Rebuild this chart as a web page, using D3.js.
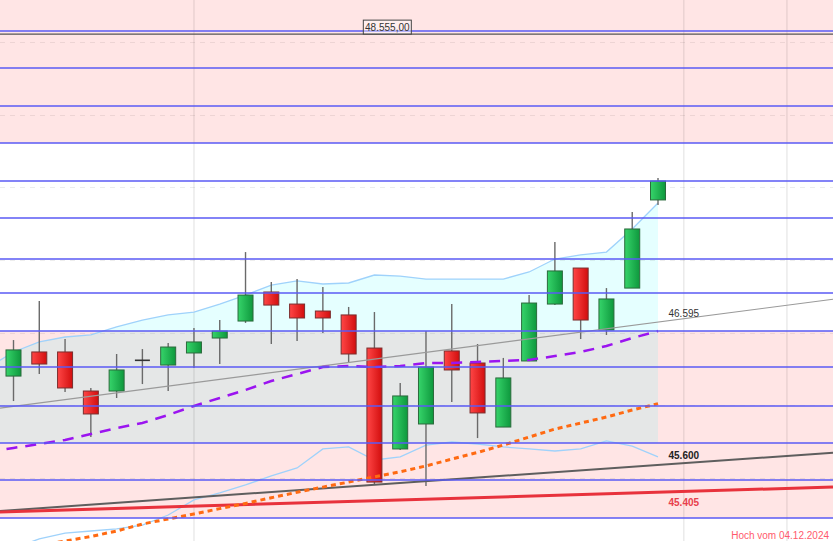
<!DOCTYPE html>
<html><head><meta charset="utf-8">
<script src="https://cdn.jsdelivr.net/npm/d3@7"></script>
<style>body{margin:0;background:#fff;}svg{display:block;font-family:"Liberation Sans",Arial,sans-serif;}</style>
</head><body><svg id="c" width="833" height="541"></svg>
<script>
// ---- data ----
const dates = ["2025-09-22","2025-09-23","2025-09-24","2025-09-25","2025-09-26","2025-09-29","2025-09-30",
  "2025-10-01","2025-10-02","2025-10-03","2025-10-06","2025-10-07","2025-10-08","2025-10-09","2025-10-10",
  "2025-10-13","2025-10-14","2025-10-15","2025-10-16","2025-10-17","2025-10-20","2025-10-21","2025-10-22",
  "2025-10-23","2025-10-24","2025-10-27"];
const opens  = [46200,46366,46366,46097,46097,46311,46276,46359,46462,46579,46779,46696,46648,46621,46393,45698,45870,46373,46290,45849,46304,46696,46944,46517,46806,47413];
const highs  = [46448,46717,46455,46118,46352,46386,46428,46531,46586,47054,46848,46868,46813,46676,46641,46152,46510,46696,46421,46325,46758,47123,46944,46806,47330,47564];
const lows   = [46028,46214,46090,45780,46049,46145,46097,46256,46283,46566,46421,46442,46497,46290,45450,45691,45443,46021,45773,45849,46304,46689,46455,46483,46806,47378];
const closes = [46380,46283,46118,45939,46242,46306,46400,46435,46510,46758,46689,46600,46600,46352,45470,46063,46262,46242,45946,46187,46703,46924,46586,46731,47213,47543];
// Bollinger bands start one session earlier (2025-09-19) so they reach the left edge
const bbUpper  = [46256,46366,46435,46469,46483,46538,46586,46621,46641,46696,46758,46827,46855,46834,46841,46896,46889,46868,46868,46868,46868,46917,47006,47034,47054,47213,47392];
const bbMiddle = [45677,45705,45732,45760,45801,45842,45877,45932,45994,46049,46104,46166,46214,46262,46269,46262,46269,46290,46290,46297,46304,46311,46338,46366,46407,46462,46510];
const bbLower  = [44961,45016,45078,45119,45133,45147,45174,45243,45347,45395,45450,45512,45567,45698,45712,45622,45643,45725,45746,45732,45712,45698,45684,45698,45753,45718,45643];
const bbFillFloor = 45739;
const maOrange = [45002,45032,45064,45095,45133,45181,45216,45250,45287,45323,45362,45400,45435,45470,45506,45541,45581,45628,45674,45725,45780,45835,45876,45918,45966,46010];
const levels   = [48576,48321,48060,47805,47543,47289,47006,46772,46510,46262,45994,45739,45484,45222];
const zones    = [[47805,49000],[45222,46510]];
const gridValues = [45500,46000,46500,47000,47500,48000,48500];
const vGridIdx = [7,26,30];
const trendThin = [[0,45992],[26,46595]];
const trendDark = [[0,45277],[26,45600]];
const trendRed  = [[0,45267],[26,45405]];
const highLevel = 48555, highLabel = "48.555,00";
const trendLabels = ["46.595","45.600","45.405"];
const oldHigh = 45073, oldHighLabel = "Hoch vom 04.12.2024";

// ---- scales ----
const W=833,H=541;
const svg=d3.select("#c");
const x=d3.scaleLinear().domain([-0.5237,31.788]).range([0,W]);
const y=d3.scaleLinear().domain([45064.1,48790]).range([H,0]);
const idx=d3.range(dates.length);
const bbIdx=d3.range(bbUpper.length); // offset by -1

const defs=svg.append("defs");
function grad(id,a,b){const g=defs.append("linearGradient").attr("id",id).attr("x1",0).attr("x2",1).attr("y1",0).attr("y2",0);
 g.append("stop").attr("offset","0%").attr("stop-color",a);g.append("stop").attr("offset","100%").attr("stop-color",b);}
grad("gUp","#36d46a","#0e983d");grad("gDn","#ff4646","#d20e0e");
defs.append("clipPath").attr("id","bbClip").append("rect")
 .attr("x",0).attr("y",0).attr("width",W).attr("height",y(bbFillFloor));

svg.append("rect").attr("width",W).attr("height",H).attr("fill","#fff");
svg.selectAll(".zone").data(zones).join("rect")
 .attr("x",0).attr("width",W)
 .attr("y",d=>Math.max(0,y(d[1]))).attr("height",d=>y(d[0])-Math.max(0,y(d[1])))
 .attr("fill","#ffe5e5");
// dashed grid
svg.selectAll(".grid").data(gridValues).join("line")
 .attr("x1",0).attr("x2",W).attr("y1",d=>Math.round(y(d))+0.5).attr("y2",d=>Math.round(y(d))+0.5)
 .attr("stroke","#000").attr("stroke-opacity",0.07).attr("stroke-dasharray","5,5");
// BB fill
svg.append("path").datum(bbIdx).attr("clip-path","url(#bbClip)")
 .attr("d",d3.area().x(i=>x(i-1)).y0(i=>y(bbLower[i])).y1(i=>y(bbUpper[i])))
 .attr("fill","rgb(0,255,255)").attr("fill-opacity",0.1);
// vertical grid
svg.selectAll(".vg").data(vGridIdx).join("line")
 .attr("x1",d=>x(d)).attr("x2",d=>x(d)).attr("y1",0).attr("y2",H)
 .attr("stroke","#000").attr("stroke-opacity",0.08).attr("stroke-width",1.6);
// BB lines
[bbUpper,bbLower].forEach(arr=>{
 svg.append("path").datum(bbIdx).attr("d",d3.line().x(i=>x(i-1)).y(i=>y(arr[i])))
  .attr("fill","none").attr("stroke","#9fd2fb").attr("stroke-width",1.3);
});
// candles
const cw=15;
const g=svg.append("g");
idx.forEach(i=>{
 const cx=x(i);
 g.append("line").attr("x1",cx).attr("x2",cx).attr("y1",y(highs[i])).attr("y2",y(lows[i]))
  .attr("stroke","#6a6a6a").attr("stroke-width",1.4);
 const top=y(Math.max(opens[i],closes[i])), bot=y(Math.min(opens[i],closes[i]));
 if(bot-top<1.5){
  g.append("line").attr("x1",cx-cw/2).attr("x2",cx+cw/2).attr("y1",(top+bot)/2).attr("y2",(top+bot)/2)
   .attr("stroke","#333").attr("stroke-width",1.6);
 } else {
  const up=closes[i]>opens[i];
  g.append("rect").attr("x",cx-cw/2).attr("width",cw).attr("y",top).attr("height",bot-top)
   .attr("fill",up?"url(#gUp)":"url(#gDn)").attr("stroke",up?"#2b6a3c":"#7a2e2e").attr("stroke-width",1);
 }
});
// trend lines
function trend(p,color,w){
 const slope=(p[1][1]-p[0][1])/(p[1][0]-p[0][0]);
 const f=i=>p[0][1]+slope*(i-p[0][0]);
 const [a,b]=x.domain();
 svg.append("line").attr("x1",x(a)).attr("x2",x(b)).attr("y1",y(f(a))).attr("y2",y(f(b)))
  .attr("stroke",color).attr("stroke-width",w);
}
trend(trendThin,"#9a9a9a",1.2);
trend(trendDark,"#5e5e5e",2);
trend(trendRed,"#e8323c",3);
// MA lines
svg.append("path").datum(idx).attr("d",d3.line().x(i=>x(i)).y(i=>y(maOrange[i])))
 .attr("fill","none").attr("stroke","#ff6a12").attr("stroke-width",3).attr("stroke-dasharray","5,4");
svg.append("path").datum(bbIdx).attr("d",d3.line().x(i=>x(i-1)).y(i=>y(bbMiddle[i])))
 .attr("fill","none").attr("stroke","#9b14f0").attr("stroke-width",2.5).attr("stroke-dasharray","11,8");
// level lines
svg.selectAll(".lvl").data(levels).join("line")
 .attr("x1",0).attr("x2",W).attr("y1",d=>Math.round(y(d))).attr("y2",d=>Math.round(y(d)))
 .attr("stroke","#5a5af4").attr("stroke-width",1.6);
svg.append("line").attr("x1",0).attr("x2",W).attr("y1",y(highLevel)).attr("y2",y(highLevel))
 .attr("stroke","#555").attr("stroke-width",1.4);
// labels
const bx=x(14.5);
svg.append("rect").attr("x",bx-24).attr("y",y(highLevel)-14).attr("width",48).attr("height",14)
 .attr("fill","#fff").attr("fill-opacity",0.4).attr("stroke","#444").attr("stroke-width",1);
svg.append("text").attr("x",bx).attr("y",y(highLevel)-3).attr("text-anchor","middle")
 .attr("font-size",10).attr("fill","#333").text(highLabel);
const lx=x(26);
svg.append("text").attr("x",lx).attr("y",y(46595)-1.8).attr("text-anchor","middle").attr("font-size",10)
 .attr("fill","#333").text(trendLabels[0]);
svg.append("text").attr("x",lx).attr("y",y(45600)-4).attr("text-anchor","middle").attr("font-size",10)
 .attr("font-weight","bold").attr("fill","#222").text(trendLabels[1]);
svg.append("text").attr("x",lx).attr("y",y(45405)+14).attr("text-anchor","middle").attr("font-size",10)
 .attr("font-weight","bold").attr("fill","#e8404c").text(trendLabels[2]);
svg.append("text").attr("x",829).attr("y",y(oldHigh)-1).attr("text-anchor","end").attr("font-size",10)
 .attr("fill","#ff5a6c").text(oldHighLabel);
</script></body></html>
